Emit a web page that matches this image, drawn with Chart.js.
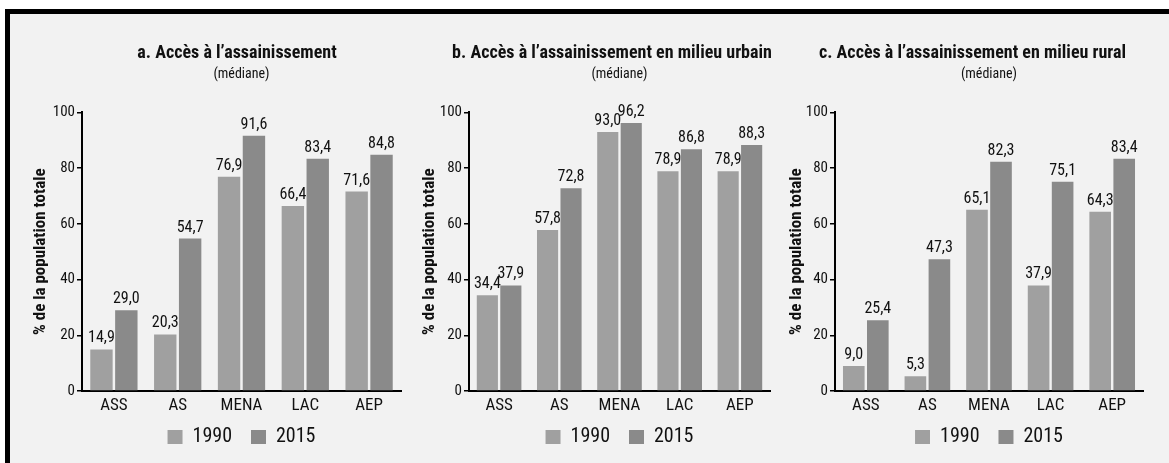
<!DOCTYPE html>
<html>
<head>
<meta charset="utf-8">
<script src="https://cdn.jsdelivr.net/npm/chart.js@4"></script>
<style>
  html, body { margin: 0; padding: 0; background: #fff; width: 1169px; height: 463px; overflow: hidden; }
  #frame { position: absolute; left: 5px; top: 9px; width: 1200px; height: 500px;
           border-left: 5px solid #000; border-top: 5px solid #000; background: #f2f2f2; }
  canvas { position: absolute; top: 0; }
</style>
</head>
<body>
<div id="frame"></div>
<canvas id="chartA" width="454" height="463" style="left:10px"></canvas>
<canvas id="chartB" width="394" height="463" style="left:415px"></canvas>
<canvas id="chartC" width="390" height="463" style="left:785px"></canvas>
<script>
// values (median, % of total population)
const categories = ['ASS', 'AS', 'MENA', 'LAC', 'AEP'];
const years = ['1990', '2015'];
const yTicks = [0, 20, 40, 60, 80, 100];

const total1990 = [14.9, 20.3, 76.9, 66.4, 71.6];
const total2015 = [29.0, 54.7, 91.6, 83.4, 84.8];
const urbain1990 = [34.4, 57.8, 93.0, 78.9, 78.9];
const urbain2015 = [37.9, 72.8, 96.2, 86.8, 88.3];
const rural1990 = [9.0, 5.3, 65.1, 37.9, 64.3];
const rural2015 = [25.4, 47.3, 82.3, 75.1, 83.4];

const FONT = "'Roboto Condensed', 'Liberation Sans Narrow', Roboto, sans-serif";
const colors = ['#a0a0a0', '#8a8a8a'];

Chart.defaults.font.family = FONT;
Chart.defaults.color = '#111';

// draws the value above each bar, french decimal comma
const valueLabels = {
  id: 'valueLabels',
  afterDatasetsDraw(chart) {
    const ctx = chart.ctx;
    ctx.save();
    ctx.font = '16px ' + FONT;
    ctx.fillStyle = '#111';
    ctx.textAlign = 'center';
    ctx.textBaseline = 'alphabetic';
    chart.data.datasets.forEach((ds, i) => {
      chart.getDatasetMeta(i).data.forEach((bar, j) => {
        ctx.fillText(ds.data[j].toFixed(1).replace('.', ','), bar.x, bar.y - 7);
      });
    });
    ctx.restore();
  }
};

// title is centred a little left of the plot area in the original
const shiftTitle = {
  id: 'shiftTitle',
  afterLayout(chart, args, opts) {
    const t = chart.titleBlock;
    if (!t) return;
    const c = (t.left + t.right) / 2 + opts.dx;
    t.left = c - 220;
    t.right = c + 220;
  }
};

function makeChart(id, title, d1990, d2015, axisWidth, yTitlePad, rightPad, titleDx) {
  new Chart(document.getElementById(id), {
    type: 'bar',
    data: {
      labels: categories,
      datasets: [
        { label: years[0], data: d1990, backgroundColor: colors[0] },
        { label: years[1], data: d2015, backgroundColor: colors[1] }
      ]
    },
    plugins: [valueLabels, shiftTitle],
    options: {
      responsive: false,
      animation: false,
      layout: { padding: { top: 0, right: rightPad, bottom: 6, left: 0 } },
      categoryPercentage: 0.78,
      barPercentage: 0.9,
      plugins: {
        shiftTitle: { dx: titleDx },
        title: {
          display: true,
          fullSize: false,
          text: title,
          font: { size: 18, weight: 'bold', lineHeight: 1.2 },
          color: '#111',
          padding: { top: 43, bottom: 0 }
        },
        subtitle: {
          display: true,
          fullSize: false,
          text: '(médiane)',
          font: { size: 14, lineHeight: 1.2 },
          color: '#111',
          padding: { top: 1, bottom: 30 }
        },
        legend: {
          position: 'bottom',
          fullSize: false,
          labels: {
            boxWidth: 15,
            boxHeight: 14,
            padding: 10,
            font: { size: 20 },
            color: '#111',
            generateLabels: chart => {
              const items = Chart.defaults.plugins.legend.labels.generateLabels(chart);
              items.forEach((it, i) => { if (i < items.length - 1) it.text += '\u2002'; });
              return items;
            }
          }
        },
        tooltip: { enabled: false }
      },
      scales: {
        x: {
          grid: { display: false, drawTicks: false, tickLength: 0 },
          border: { display: true, color: '#000', width: 2 },
          ticks: { font: { size: 17 }, color: '#111', padding: 5 },
          afterFit: s => { s.height = 26; }
        },
        y: {
          min: 0,
          max: 100,
          afterBuildTicks: s => { s.ticks = yTicks.map(v => ({ value: v })); },
          grid: { drawOnChartArea: false, drawTicks: true, tickLength: 5, color: '#000', lineWidth: 1.5 },
          border: { display: true, color: '#000', width: 2 },
          ticks: { font: { size: 15 }, color: '#111', padding: 2 },
          title: {
            display: true,
            text: '% de la population totale',
            font: { size: 17, weight: 'bold', lineHeight: 1.2 },
            color: '#111',
            padding: { top: yTitlePad, bottom: 0 }
          },
          afterFit: s => { s.width = axisWidth; }
        }
      }
    }
  });
}

makeChart('chartA', 'a. Accès à l’assainissement', total1990, total2015, 72, 21, 63, -4.5);
makeChart('chartB', 'b. Accès à l’assainissement en milieu urbain', urbain1990, urbain2015, 54, 5, 39, -7.5);
makeChart('chartC', 'c. Accès à l’assainissement en milieu rural', rural1990, rural2015, 50, 2, 32, -16.5);
</script>
</body>
</html>
